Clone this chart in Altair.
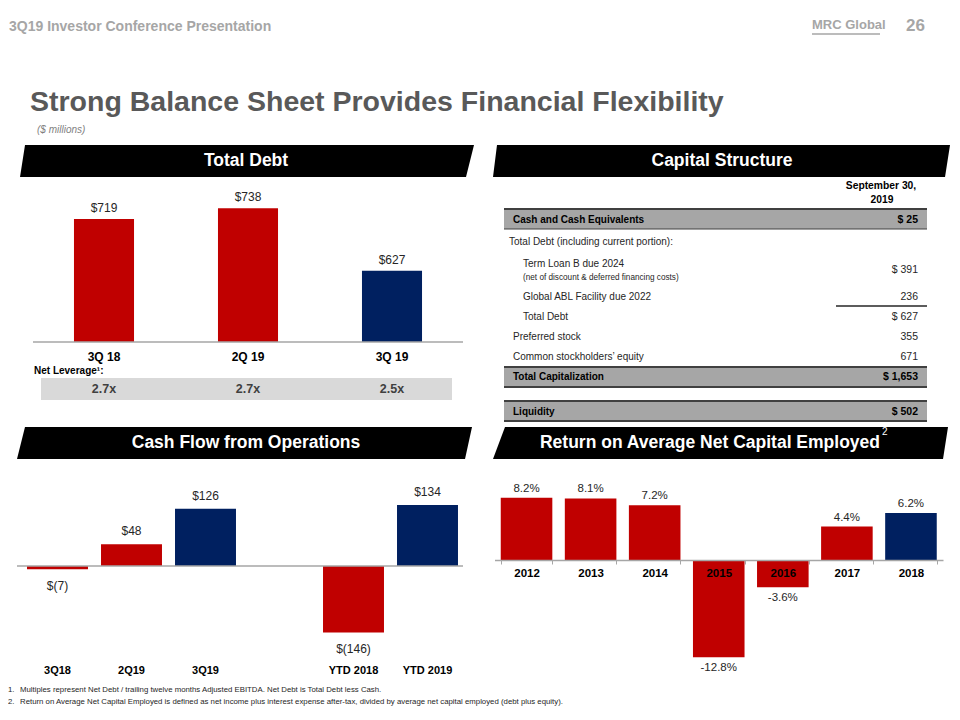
import altair as alt
import pandas as pd

# ---------------- data ----------------
td_periods = ["3Q 18", "2Q 19", "3Q 19"]
td_values = [719, 738, 627]
td_leverage = ["2.7x", "2.7x", "2.5x"]

cf_periods = ["3Q18", "2Q19", "3Q19", "YTD 2018", "YTD 2019"]
cf_values = [-7, 48, 126, -146, 134]

ro_years = ["2012", "2013", "2014", "2015", "2016", "2017", "2018"]
ro_values = [8.2, 8.1, 7.2, -12.8, -3.6, 4.4, 6.2]

cs_labels = ["Cash and Cash Equivalents", "Total Debt (including current portion):",
             "Term Loan B due 2024", "(net of discount & deferred financing costs)",
             "Global ABL Facility due 2022", "Total Debt", "Preferred stock",
             "Common stockholders\u2019 equity", "Total Capitalization", "Liquidity"]
cs_amounts = ["$ 25", "", "$ 391", "", "236", "$ 627", "355", "671", "$ 1,653", "$ 502"]

footnote_1 = "Multiples represent Net Debt / trailing twelve months Adjusted EBITDA. Net Debt is Total Debt less Cash."
footnote_2 = ("Return on Average Net Capital Employed is defined as net income plus interest expense after-tax, "
              "divided by average net capital employed (debt plus equity).")

# ---------------- styles / layout ----------------
RED = "#C00000"
NAVY = "#002060"
DARK = "#262626"
AXIS_GRAY = "#A6A6A6"
SANS = "Liberation Sans, Arial, sans-serif"
td_colors = [RED, RED, NAVY]
cf_colors = [RED, RED, NAVY, RED, NAVY]
ro_colors = [RED] * 6 + [NAVY]

W, H = 944, 704
def X(v):
    return v - 8
def Y(v):
    return v - 8

ONE = alt.Data(values=[{"k": 0}])


def text(s, x, y, size=12, weight="normal", color=DARK, align="left", font=SANS, style="normal"):
    return alt.Chart(ONE).mark_text(text=s, fontSize=size, fontWeight=weight, color=color, align=align,
                                    font=font, fontStyle=style, baseline="middle").encode(
        x=alt.value(X(x)), y=alt.value(Y(y)))


def rect(x1, x2, y1, y2, color):
    return alt.Chart(ONE).mark_rect(color=color).encode(
        x=alt.value(X(x1)), x2=alt.value(X(x2)), y=alt.value(Y(y1)), y2=alt.value(Y(y2)))


def hline(x1, x2, y, color, width):
    return alt.Chart(ONE).mark_rule(color=color, strokeWidth=width).encode(
        x=alt.value(X(x1)), x2=alt.value(X(x2)), y=alt.value(Y(y)))


def banner(xlb, xlt, xrb, xrt, yt, yb):
    df = pd.DataFrame({"bx": [X(xlb), X(xlt), X(xrb), X(xrt)],
                       "by": [Y(yb), Y(yt), Y(yt), Y(yt)],
                       "by2": [Y(yb), Y(yb), Y(yb), Y(yt)]})
    return alt.Chart(df).mark_area(color="black").encode(
        x=alt.X("bx:Q", scale=None), y=alt.Y("by:Q", scale=None), y2="by2:Q")


layers = []

# ---- page header ----
HEAD_GRAY = "#A6A6A6"
layers += [
    text("3Q19 Investor Conference Presentation", 9, 27, size=14, weight="bold", color=HEAD_GRAY),
    text("MRC Global", 812, 25, size=13, weight="bold", color=HEAD_GRAY),
    hline(812, 880, 34, HEAD_GRAY, 1.5),
    text("26", 925, 26, size=17, weight="bold", color=HEAD_GRAY, align="right"),
    text("Strong Balance Sheet Provides Financial Flexibility", 30, 102, size=28.5, weight="bold", color="#595959"),
    text("($ millions)", 37, 130, size=10, color="#7F7F7F", style="italic"),
]

# ---- banners ----
BANNER_SIZE = 17.5
layers += [
    banner(20, 25, 466, 474, 145, 177),
    text("Total Debt", 246, 161, size=BANNER_SIZE, weight="bold", color="white", align="center"),
    banner(493, 497, 945, 950, 145, 177),
    text("Capital Structure", 722, 161, size=BANNER_SIZE, weight="bold", color="white", align="center"),
    banner(17, 25, 465, 472, 427, 459),
    text("Cash Flow from Operations", 246, 443, size=BANNER_SIZE, weight="bold", color="white", align="center"),
    banner(493, 505, 943, 948, 427, 459),
    text("Return on Average Net Capital Employed", 710, 443, size=BANNER_SIZE, weight="bold", color="white",
         align="center"),
    text("2", 882, 432, size=10, color="white"),
]

# ---- Total Debt chart ----
td_df = pd.DataFrame({"period": td_periods, "value": td_values,
                      "label": [f"${v}" for v in td_values], "lev": td_leverage})
td_x = alt.X("period:N", sort=td_periods,
             scale=alt.Scale(domain=td_periods, range=[X(32), X(464)], paddingInner=0.583, paddingOuter=0.2915),
             axis=None)
td_y = alt.Y("value:Q", scale=alt.Scale(domain=[500, 800], range=[Y(342), Y(173.4)], nice=False, zero=False),
             axis=None)
td_base = alt.Chart(td_df)
td_layer = alt.layer(
    td_base.mark_bar().encode(
        x=td_x, y=td_y, y2=alt.datum(500),
        color=alt.Color("period:N", scale=alt.Scale(domain=td_periods, range=td_colors), legend=None)),
    td_base.mark_text(dy=-11, fontSize=12, font=SANS, color=DARK).encode(x=td_x, y=td_y, text="label:N"),
    td_base.mark_text(fontSize=12, fontWeight="bold", font=SANS, color="black").encode(
        x=td_x, y=alt.value(Y(357)), text="period:N"),
    alt.Chart(ONE).mark_rule(color=AXIS_GRAY, strokeWidth=1.5).encode(
        x=alt.value(X(33)), x2=alt.value(X(463)), y=alt.datum(500)),
)
layers += [
    text("Net Leverage\u00b9:", 34, 371, size=10, weight="bold", color="black"),
    rect(41, 452, 378, 400, "#D9D9D9"),
    td_layer,
    td_base.mark_text(fontSize=12.5, fontWeight="bold", font=SANS, color="#404040").encode(
        x=td_x, y=alt.value(Y(389)), text="lev:N"),
]

# ---- Capital structure table ----
cs_label_x = [513, 509, 523, 523, 523, 523, 513, 513, 513, 513]
cs_label_y = [220, 242, 264, 278, 297, 317, 337, 357, 377, 412]
cs_amount_y = [220, 242, 270, 278, 297, 317, 337, 357, 377, 412]
cs_bold = [True, False, False, False, False, False, False, False, True, True]
cs_size = [10, 10, 10, 8.2, 10, 10, 10, 10, 10, 10]
LINE = "#404040"
layers += [
    text("September 30,", 881, 186, size=10.3, weight="bold", color="black", align="center"),
    text("2019", 882, 200, size=10.3, weight="bold", color="black", align="center"),
    rect(504, 927, 209, 229, "#A6A6A6"), hline(504, 927, 209, LINE, 2), hline(504, 927, 229, LINE, 1),
    rect(504, 927, 367, 387, "#A6A6A6"), hline(504, 927, 367, LINE, 2), hline(504, 927, 387, LINE, 2),
    rect(504, 927, 401, 421, "#A6A6A6"), hline(504, 927, 401, LINE, 2), hline(504, 927, 421, LINE, 2),
    hline(836, 927, 306, "#262626", 1.5),
]
for i, lab in enumerate(cs_labels):
    w = "bold" if cs_bold[i] else "normal"
    col = "black" if cs_bold[i] else DARK
    layers.append(text(lab, cs_label_x[i], cs_label_y[i], size=cs_size[i], weight=w, color=col))
    if cs_amounts[i]:
        layers.append(text(cs_amounts[i], 918, cs_amount_y[i], size=cs_size[i] + 0.5, weight=w, color=col,
                           align="right"))

# ---- Cash flow chart ----
CF_GAP = "gap"
cf_domain = cf_periods[:3] + [CF_GAP] + cf_periods[3:]
cf_df = pd.DataFrame({"period": cf_periods, "value": cf_values,
                      "label": [f"${v}" if v >= 0 else f"$({-v})" for v in cf_values]})
cf_x = alt.X("period:N", scale=alt.Scale(domain=cf_domain, range=[X(20.5), X(464.5)],
                                         paddingInner=0.176, paddingOuter=0.088), axis=None)
cf_y = alt.Y("value:Q", scale=alt.Scale(domain=[0, 100], range=[Y(566), Y(520.5)], nice=False, zero=False),
             axis=None)
cf_base = alt.Chart(cf_df)
cf_layer = alt.layer(
    cf_base.mark_bar().encode(
        x=cf_x, y=cf_y, y2=alt.datum(0),
        color=alt.Color("period:N", scale=alt.Scale(domain=cf_periods, range=cf_colors), legend=None)),
    cf_base.transform_filter("datum.value >= 0").mark_text(dy=-13, fontSize=12, font=SANS, color=DARK).encode(
        x=cf_x, y=cf_y, text="label:N"),
    cf_base.transform_filter("datum.value < 0").mark_text(dy=17, fontSize=12, font=SANS, color=DARK).encode(
        x=cf_x, y=cf_y, text="label:N"),
    cf_base.mark_text(fontSize=11, fontWeight="bold", font=SANS, color="black").encode(
        x=cf_x, y=alt.value(Y(671)), text="period:N"),
    alt.Chart(ONE).mark_rule(color=AXIS_GRAY, strokeWidth=1.5).encode(
        x=alt.value(X(17)), x2=alt.value(X(463)), y=alt.datum(0)),
)
layers.append(cf_layer)

# ---- Return on capital chart ----
ro_df = pd.DataFrame({"year": ro_years, "value": ro_values, "label": [f"{v:.1f}%" for v in ro_values]})
ro_x = alt.X("year:N", sort=ro_years,
             scale=alt.Scale(domain=ro_years, range=[X(494.5), X(943)], paddingInner=0.195, paddingOuter=0.0975),
             axis=alt.Axis(orient="bottom", offset=-(H - Y(560)), title=None, labelFontWeight="bold",
                           labelFontSize=11.5, labelFont=SANS, labelColor="black", labelPadding=3, labelAngle=0,
                           tickSize=4, tickColor=AXIS_GRAY, domainColor=AXIS_GRAY, domainWidth=1.5,
                           tickBand="extent", grid=False, zindex=1))
ro_y = alt.Y("value:Q", scale=alt.Scale(domain=[0, 10], range=[Y(560), Y(484)], nice=False, zero=False),
             axis=None)
ro_base = alt.Chart(ro_df)
ro_layer = alt.layer(
    ro_base.mark_bar().encode(
        x=ro_x, y=ro_y, y2=alt.datum(0),
        color=alt.Color("year:N", scale=alt.Scale(domain=ro_years, range=ro_colors), legend=None)),
    ro_base.transform_filter("datum.value >= 0").mark_text(dy=-9, fontSize=11.5, font=SANS, color=DARK).encode(
        x=ro_x, y=ro_y, text="label:N"),
    ro_base.transform_filter("datum.value < 0").mark_text(dy=11, fontSize=11.5, font=SANS, color=DARK).encode(
        x=ro_x, y=ro_y, text="label:N"),
)
layers.append(ro_layer)

# ---- footnotes ----
layers += [
    text("1.", 8, 690, size=7.8),
    text(footnote_1, 20, 690, size=7.8),
    text("2.", 8, 702, size=7.8),
    text(footnote_2, 20, 702, size=7.8),
]

chart = alt.layer(*layers).resolve_scale(
    x="independent", y="independent", color="independent"
).properties(
    width=W, height=H, padding=0, autosize=alt.AutoSizeParams(type="none")
).configure_view(stroke=None)

chart.save("out.html", embed_options={"renderer": "svg", "actions": False})
